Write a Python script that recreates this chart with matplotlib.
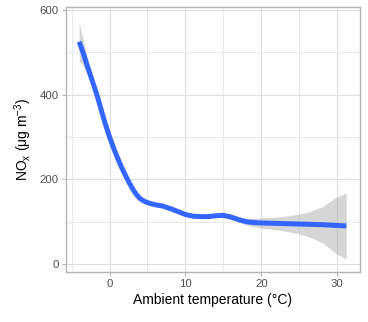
import matplotlib
matplotlib.use("Agg")
import matplotlib.pyplot as plt
from matplotlib.ticker import MultipleLocator
import numpy as np

# fitted smooth
temp = [-4.0, -3.5, -3.0, -2.5, -2.0, -1.5, -1.0, -0.5, 0.0, 0.5, 1.0, 1.5,
        2.0, 2.5, 3.0, 3.5, 4.0, 4.5, 5.0, 6.0, 7.0, 8.0, 9.0, 10.0, 11.0,
        12.0, 13.0, 14.0, 15.0, 16.0, 17.0, 18.0, 19.0, 20.0, 22.0, 24.0,
        26.0, 28.0, 30.0, 31.2]
nox = [525, 500, 472, 445, 418, 390, 358, 328, 300, 276, 253, 232,
       213, 195, 179, 165, 155, 149, 145, 140, 137, 131, 124, 117, 113,
       112, 112, 114, 115, 111, 105, 100, 98, 97, 96, 95, 94, 93, 91, 90]
# half-width of the confidence band
band = [47, 30, 20, 15, 12, 9, 7, 6, 5, 5, 4, 4,
        4, 4, 4, 4, 4, 4, 4, 4, 4, 4, 4, 4, 4,
        4, 4, 4, 5, 5, 6, 8, 10, 12, 15, 20, 28, 42, 68, 78]

plt.rcParams['font.family'] = ['Liberation Sans', 'DejaVu Sans']

fig = plt.figure(figsize=(3.68, 3.22), dpi=100)
ax = fig.add_axes([0.178, 0.155, 0.800, 0.822])

t = np.array(temp)
y = np.array(nox)
b = np.array(band)
ax.fill_between(t, y - b, y + b, color='#999999', alpha=0.4, linewidth=0, zorder=2)
ax.plot(t, y, color='#3366FF', linewidth=3.6, solid_capstyle='butt', zorder=3)

ax.set_xlim(-5.8, 33.0)
ax.set_ylim(-19, 606)

ax.xaxis.set_major_locator(MultipleLocator(10))
ax.xaxis.set_minor_locator(MultipleLocator(5))
ax.yaxis.set_major_locator(MultipleLocator(200))
ax.yaxis.set_minor_locator(MultipleLocator(100))

ax.grid(which='major', color='#DEDEDE', linewidth=0.8, zorder=0)
ax.grid(which='minor', color='#E5E5E5', linewidth=0.6, zorder=0)
ax.set_axisbelow(True)

for s in ax.spines.values():
    s.set_color('#B3B3B3')
    s.set_linewidth(1.0)

ax.tick_params(which='major', length=3, width=0.8, color='#B3B3B3',
               labelcolor='#4D4D4D', labelsize=8.2, pad=2)
ax.tick_params(which='minor', length=0)

ax.set_xlabel('Ambient temperature (°C)', fontsize=10, color='black', labelpad=3)
ax.set_ylabel(r'NO$_\mathregular{x}$ ($\mathregular{\mu}$g m$^{\mathregular{-3}}$)',
              fontsize=10, color='black', labelpad=4)

fig.savefig('out.png', dpi=100)
